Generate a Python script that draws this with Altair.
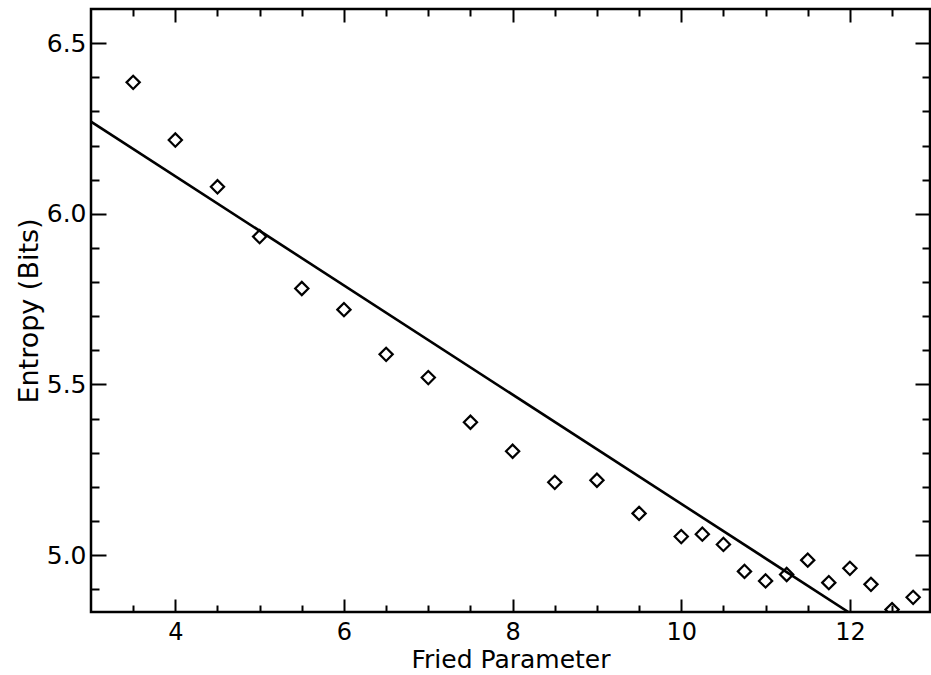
import altair as alt
import pandas as pd

# Measured entropy versus Fried parameter
fried = [3.5, 4.0, 4.5, 5.0, 5.5, 6.0, 6.5, 7.0, 7.5, 8.0, 8.5, 9.0, 9.5,
         10.0, 10.25, 10.5, 10.75, 11.0, 11.25, 11.5, 11.75, 12.0, 12.25, 12.5, 12.75]
entropy = [6.385, 6.216, 6.079, 5.933, 5.781, 5.719, 5.588, 5.520, 5.389, 5.304, 5.213, 5.219, 5.122,
           5.054, 5.061, 5.031, 4.952, 4.924, 4.943, 4.985, 4.919, 4.961, 4.914, 4.840, 4.876]

# Straight-line fit
fit_x = [3.0, 12.0]
fit_y = [6.27, 4.83]

# Tick positions
x_major = [4, 6, 8, 10, 12]
x_minor = [3.5, 4.5, 5, 5.5, 6.5, 7, 7.5, 8.5, 9, 9.5, 10.5, 11, 11.5, 12.5]
y_major = [5.0, 5.5, 6.0, 6.5]
y_minor = [4.9, 5.1, 5.2, 5.3, 5.4, 5.6, 5.7, 5.8, 5.9, 6.1, 6.2, 6.3, 6.4]

points = pd.DataFrame({"x": fried, "y": entropy})
fit = pd.DataFrame({"x": fit_x, "y": fit_y})

FONT = "DejaVu Sans"
xs = alt.Scale(domain=[3, 12.95], nice=False, zero=False)
ys = alt.Scale(domain=[4.833, 6.6], nice=False, zero=False)

X_MAJ, X_MIN, Y_MAJ, Y_MIN = 13, 7, 15, 8


def tick_axis(orient, values, size, **kw):
    # ticks point inward: the axis line is pulled inside the frame by its tick length
    return alt.Axis(orient=orient, values=values, tickSize=size, offset=-size,
                    domain=False, grid=False, tickColor="black", tickWidth=2,
                    **kw)


def bare(orient, values, size):
    return tick_axis(orient, values, size, labels=False, title=None)


line = alt.Chart(fit).mark_line(color="black", strokeWidth=2.6, clip=True).encode(
    x=alt.X("x:Q", scale=xs,
            axis=tick_axis("bottom", x_major, X_MAJ, format="d", labelFlush=False,
                           labelPadding=8, labelFont=FONT, labelFontSize=24,
                           labelColor="black", title="Fried Parameter",
                           titleFont=FONT, titleFontSize=25, titleFontWeight="normal",
                           titleColor="black", titlePadding=3)),
    y=alt.Y("y:Q", scale=ys,
            axis=tick_axis("left", y_major, Y_MAJ, format=".1f", labelFlush=False,
                           labelPadding=5, labelFont=FONT, labelFontSize=25,
                           labelColor="black", title="Entropy (Bits)",
                           titleFont=FONT, titleFontSize=27, titleFontWeight="normal",
                           titleColor="black", titlePadding=3)),
)

diamonds = alt.Chart(points).mark_point(
    shape="diamond", size=175, filled=False, color="black", opacity=1,
    strokeWidth=2.2, clip=True
).encode(
    x=alt.X("x:Q", scale=xs, axis=bare("bottom", x_minor, X_MIN)),
    y=alt.Y("y:Q", scale=ys, axis=bare("left", y_minor, Y_MIN)),
)

top_right_major = alt.Chart(points).mark_point(opacity=0).encode(
    x=alt.X("x:Q", scale=xs, axis=bare("top", x_major, X_MAJ)),
    y=alt.Y("y:Q", scale=ys, axis=bare("right", y_major, Y_MAJ)),
)

top_right_minor = alt.Chart(points).mark_point(opacity=0).encode(
    x=alt.X("x:Q", scale=xs, axis=bare("top", x_minor, X_MIN)),
    y=alt.Y("y:Q", scale=ys, axis=bare("right", y_minor, Y_MIN)),
)

chart = (
    alt.layer(line, diamonds, top_right_major, top_right_minor)
    .resolve_axis(x="independent", y="independent")
    .properties(
        width=839, height=603,
        autosize=alt.AutoSizeParams(type="none"),
        padding={"left": 91, "top": 9, "right": 1, "bottom": 63},
        background="white",
    )
    .configure_view(stroke="black", strokeWidth=2.5)
)

chart.save("out.html", embed_options={"renderer": "svg", "actions": False})
